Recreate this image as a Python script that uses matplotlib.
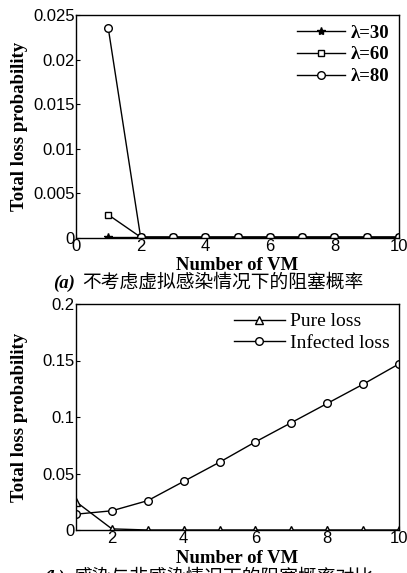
import matplotlib.pyplot as plt
import numpy as np

# data
vm = [1, 2, 3, 4, 5, 6, 7, 8, 9, 10]
lam30 = [0.0001, 0.0001, 0.0001, 0.0001, 0.0001, 0.0001, 0.0001, 0.0001, 0.0001, 0.0001]
lam60 = [0.0026, 0.0001, 0.0001, 0.0001, 0.0001, 0.0001, 0.0001, 0.0001, 0.0001, 0.0001]
lam80 = [0.0235, 0.0001, 0.0001, 0.0001, 0.0001, 0.0001, 0.0001, 0.0001, 0.0001, 0.0001]
pure_loss = [0.025, 0.001, 0.0, 0.0, 0.0, 0.0, 0.0, 0.0, 0.0, 0.0]
infected_loss = [0.014, 0.017, 0.026, 0.043, 0.060, 0.078, 0.095, 0.112, 0.129, 0.147]

cap_a = "不考虑虚拟感染情况下的阻塞概率"
cap_b = "感染与非感染情况下的阻塞概率对比"

W, H = 407, 573
fig = plt.figure(figsize=(W / 100, H / 100), dpi=100)

tick_font = {'family': 'Liberation Sans', 'size': 12}
label_font = {'family': 'Liberation Serif', 'size': 13.5, 'weight': 'bold'}
cjk = ['Liberation Serif', 'Noto Sans CJK SC']


def px_axes(l, t, r, b):
    return fig.add_axes([l / W, 1 - b / H, (r - l) / W, (b - t) / H])


def style(ax):
    ax.tick_params(direction='in', length=3, width=0.8, pad=1, top=False, right=False)
    for lab in ax.get_xticklabels() + ax.get_yticklabels():
        lab.set_fontfamily(tick_font['family'])
        lab.set_fontsize(tick_font['size'])
    for s in ax.spines.values():
        s.set_linewidth(1.0)
    ax.set_xlabel('Number of VM', fontdict=label_font)
    ax.set_ylabel('Total loss probability', fontdict=label_font)
    ax.xaxis.set_label_coords(0.5, -28 / 225, transform=ax.transAxes)
    ax.yaxis.set_label_coords(-56 / 323, 0.5, transform=ax.transAxes)
    ax.xaxis.label.set_va('center')
    ax.yaxis.label.set_va('center')


# top panel
ax1 = px_axes(76, 15, 399, 238)
ax1.plot(vm, lam30, '-', color='k', lw=1, marker='*', ms=6, mfc='k', mec='k', label='λ=30')
ax1.plot(vm, lam60, '-', color='k', lw=1, marker='s', ms=5, mfc='white', mec='k', label='λ=60')
ax1.plot(vm, lam80, '-', color='k', lw=1, marker='o', ms=5.5, mfc='white', mec='k', label='λ=80')
ax1.set_xlim(0, 10)
ax1.set_ylim(0, 0.025)
ax1.set_xticks([0, 2, 4, 6, 8, 10])
ax1.set_yticks([0, 0.005, 0.01, 0.015, 0.02, 0.025])
ax1.set_yticklabels(['0', '0.005', '0.01', '0.015', '0.02', '0.025'])
style(ax1)
ax1.legend(loc='upper right', frameon=False, handlelength=2.6, handletextpad=0.3,
           labelspacing=0.25, borderaxespad=0.1,
           prop={'family': 'Liberation Serif', 'size': 13.5, 'weight': 'bold'})

fig.text(53 / W, 1 - 283 / H, '(a)', fontfamily='Liberation Serif', fontsize=13.5,
         fontweight='bold', fontstyle='italic', ha='left', va='center')
fig.text(82 / W, 1 - 283 / H, cap_a, family=cjk, fontsize=13.5, ha='left', va='center')

# bottom panel
ax2 = px_axes(76, 304, 399, 530)
ax2.plot(vm, pure_loss, '-', color='k', lw=1, marker='^', ms=5.5, mfc='white', mec='k', label='Pure loss')
ax2.plot(vm, infected_loss, '-', color='k', lw=1, marker='o', ms=5.5, mfc='white', mec='k', label='Infected loss')
ax2.set_xlim(1, 10)
ax2.set_ylim(0, 0.2)
ax2.set_xticks([2, 4, 6, 8, 10])
ax2.set_yticks([0, 0.05, 0.1, 0.15, 0.2])
ax2.set_yticklabels(['0', '0.05', '0.1', '0.15', '0.2'])
style(ax2)
ax2.legend(loc='upper right', frameon=False, handlelength=2.6, handletextpad=0.3,
           labelspacing=0.2, borderaxespad=0.05,
           prop={'family': 'Liberation Serif', 'size': 14})

fig.text(43 / W, 1 - 578 / H, '(b)', fontfamily='Liberation Serif', fontsize=13.5,
         fontweight='bold', fontstyle='italic', ha='left', va='center')
fig.text(73 / W, 1 - 578 / H, cap_b, family=cjk, fontsize=13.5, ha='left', va='center')

fig.savefig('out.png', dpi=100)
